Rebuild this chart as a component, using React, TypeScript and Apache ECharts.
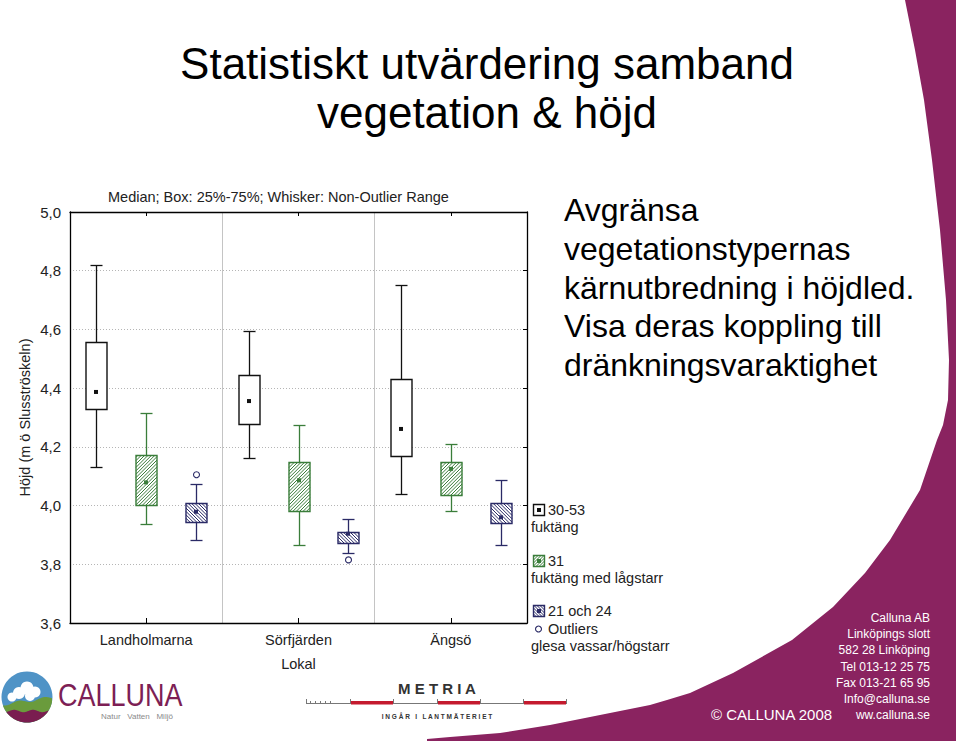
import React, { useEffect, useRef } from "react";
import * as echarts from "echarts";

// ---------- data ----------
const categories = ["Landholmarna", "Sörfjärden", "Ängsö"];
const yMin = 3.6;
const yMax = 5.0;
const yStep = 0.2;
// [low whisker, Q1 (25%), median, Q3 (75%), high whisker]
const fuktangStats = [
  [4.13, 4.329, 4.387, 4.557, 4.82],
  [4.161, 4.277, 4.356, 4.446, 4.596],
  [4.038, 4.168, 4.261, 4.431, 4.752],
];
const lagstarrStats = [
  [3.938, 4.002, 4.079, 4.172, 4.315],
  [3.864, 3.983, 4.086, 4.147, 4.276],
  [3.983, 4.035, 4.125, 4.149, 4.211],
];
const hogstarrStats = [
  [3.884, 3.944, 3.979, 4.008, 4.074],
  [3.839, 3.873, 3.904, 3.909, 3.955],
  [3.867, 3.94, 3.96, 4.008, 4.087],
];
// [category index, value]
const hogstarrOutliers = [
  [0, 4.105],
  [1, 3.815],
];

const chartSubtitle = "Median; Box: 25%-75%; Whisker: Non-Outlier Range";
const yAxisName = "Höjd (m ö Slusströskeln)";
const xAxisName = "Lokal";
const titleLines = ["Statistiskt utvärdering samband", "vegetation & höjd"];
const bodyLines = [
  "Avgränsa",
  "vegetationstypernas",
  "kärnutbredning i höjdled.",
  "Visa deras koppling till",
  "dränkningsvaraktighet",
];
const legendCodes = ["30-53", "31", "21 och 24"];
const legendNames = ["fuktäng", "fuktäng med lågstarr", "glesa vassar/högstarr"];
const outlierLabel = "Outliers";
const contactLines = [
  "Calluna AB",
  "Linköpings slott",
  "582 28 Linköping",
  "Tel 013-12 25 75",
  "Fax 013-21 65 95",
  "Info@calluna.se",
  "ww.calluna.se",
];
const copyright = "© CALLUNA 2008";

// ---------- styling ----------
const FONT = "'Liberation Sans', Arial, Helvetica, sans-serif";
const BLACK = "#111111";
const GREEN = "#3a7d3a";
const NAVY = "#2a2a66";
const PURPLE = "#8a2360";

function hatchLines(x0: number, y0: number, x1: number, y1: number, dir: number, step: number, color: string) {
  const out: any[] = [];
  if (dir === 1) {
    for (let c = x0 + y0 + step / 2; c < x1 + y1; c += step) {
      const xs = Math.max(x0, c - y1);
      const xe = Math.min(x1, c - y0);
      if (xe > xs) out.push({ type: "line", shape: { x1: xs, y1: c - xs, x2: xe, y2: c - xe }, style: { stroke: color, lineWidth: 1 } });
    }
  } else if (dir === -1) {
    for (let c = y0 - x1 + step / 2; c < y1 - x0; c += step) {
      const xs = Math.max(x0, y0 - c);
      const xe = Math.min(x1, y1 - c);
      if (xe > xs) out.push({ type: "line", shape: { x1: xs, y1: xs + c, x2: xe, y2: xe + c }, style: { stroke: color, lineWidth: 1 } });
    }
  }
  return out;
}

function makeBoxRender(offsetFrac: number, color: string, dir: number) {
  return (_params: any, api: any) => {
    const cat = api.value(0);
    const lo = api.value(1);
    const q1 = api.value(2);
    const med = api.value(3);
    const q3 = api.value(4);
    const hi = api.value(5);
    const band = api.size([1, 0])[0];
    const cx = Math.round(api.coord([cat, med])[0] + band * offsetFrac) + 0.5;
    const boxW = Math.round(band * 0.138);
    const capHalf = Math.round(band * 0.037);
    const yLo = Math.round(api.coord([cat, lo])[1]) + 0.5;
    const yQ1 = Math.round(api.coord([cat, q1])[1]) + 0.5;
    const yMed = api.coord([cat, med])[1];
    const yQ3 = Math.round(api.coord([cat, q3])[1]) + 0.5;
    const yHi = Math.round(api.coord([cat, hi])[1]) + 0.5;
    const x0 = cx - boxW / 2;
    const x1 = cx + boxW / 2;
    const ls = { stroke: color, lineWidth: 1.3 };
    const children: any[] = [
      { type: "line", shape: { x1: cx, y1: yHi, x2: cx, y2: yQ3 }, style: ls },
      { type: "line", shape: { x1: cx, y1: yQ1, x2: cx, y2: yLo }, style: ls },
      { type: "line", shape: { x1: cx - capHalf, y1: yHi, x2: cx + capHalf, y2: yHi }, style: ls },
      { type: "line", shape: { x1: cx - capHalf, y1: yLo, x2: cx + capHalf, y2: yLo }, style: ls },
      { type: "rect", shape: { x: x0, y: yQ3, width: boxW, height: yQ1 - yQ3 }, style: { fill: "#ffffff" } },
      ...hatchLines(x0, yQ3, x1, yQ1, dir, 3.4, color),
      { type: "rect", shape: { x: x0, y: yQ3, width: boxW, height: yQ1 - yQ3 }, style: { fill: "none", stroke: color, lineWidth: 1.4 } },
      { type: "rect", shape: { x: cx - 2.5, y: yMed - 2, width: 4, height: 4 }, style: { fill: color } },
    ];
    return { type: "group", children };
  };
}

function outlierRender(offsetFrac: number, color: string) {
  return (_params: any, api: any) => {
    const cat = api.value(0);
    const v = api.value(1);
    const band = api.size([1, 0])[0];
    const p = api.coord([cat, v]);
    return {
      type: "circle",
      shape: { cx: Math.round(p[0] + band * offsetFrac) + 0.5, cy: p[1], r: 3 },
      style: { fill: "#ffffff", stroke: color, lineWidth: 1.1 },
    };
  };
}

function circleRegion(cx: number, cy: number, r: number, topFn: (x: number) => number) {
  const top: number[][] = [];
  const bottom: number[][] = [];
  for (let x = cx - r; x <= cx + r + 0.01; x += 0.5) {
    const dx = x - cx;
    const h = Math.sqrt(Math.max(0, r * r - dx * dx));
    const yt = Math.max(topFn(x), cy - h);
    const yb = cy + h;
    if (yt < yb) {
      top.push([x, yt]);
      bottom.push([x, yb]);
    }
  }
  return top.concat(bottom.reverse());
}

function legendIcon(x: number, y: number, s: number, color: string, dir: number) {
  return [
    { type: "rect", shape: { x, y, width: s, height: s }, style: { fill: "#ffffff" } },
    ...hatchLines(x, y, x + s, y + s, dir, 3, color),
    { type: "rect", shape: { x, y, width: s, height: s }, style: { fill: "none", stroke: color, lineWidth: 1.4 } },
    { type: "rect", shape: { x: x + s / 2 - 2, y: y + s / 2 - 2, width: 4, height: 4 }, style: { fill: color } },
  ];
}

function buildGraphic() {
  const g: any[] = [];
  // purple decorative shape
  const edge = [
    [905, 0], [915, 50], [924, 100], [932, 160], [940, 230], [946, 300], [949, 360], [948, 400],
    [943, 425], [937, 440], [920, 490], [890, 540], [865, 573], [833, 607], [792, 640], [733, 673],
    [690, 693], [667, 700], [650, 705], [600, 715], [550, 725], [500, 733], [450, 737], [427, 739],
  ];
  g.push({
    type: "polygon",
    z: 0,
    shape: { points: [...edge, [427, 741], [956, 741], [956, 0]] },
    style: { fill: PURPLE },
  });
  // titles
  const titleY = [63, 112];
  titleLines.forEach((t, i) =>
    g.push({ type: "text", x: 487, y: titleY[i], style: { text: t, font: `44px ${FONT}`, fill: "#000", align: "center", verticalAlign: "middle" } })
  );
  bodyLines.forEach((t, i) =>
    g.push({ type: "text", x: 564, y: 210 + i * 38.8, style: { text: t, font: `32px ${FONT}`, fill: "#000", align: "left", verticalAlign: "middle" } })
  );
  // legend
  const legendY = [504, 555, 605];
  const legendColors = [BLACK, GREEN, NAVY];
  const legendDirs = [0, 1, -1];
  legendCodes.forEach((code, i) => {
    g.push({ type: "group", children: legendIcon(533.5, legendY[i] + 0.5, 11, legendColors[i], legendDirs[i]) });
    g.push({ type: "text", x: 548, y: legendY[i] + 6, style: { text: code, font: `14.5px ${FONT}`, fill: "#222", verticalAlign: "middle" } });
  });
  g.push({ type: "circle", shape: { cx: 538.5, cy: 629, r: 3 }, style: { fill: "#fff", stroke: NAVY, lineWidth: 1.1 } });
  g.push({ type: "text", x: 548, y: 629, style: { text: outlierLabel, font: `14.5px ${FONT}`, fill: "#222", verticalAlign: "middle" } });
  const nameY = [527, 578, 646];
  legendNames.forEach((n, i) =>
    g.push({ type: "text", x: 531, y: nameY[i], style: { text: n, font: `14.5px ${FONT}`, fill: "#222", verticalAlign: "middle" } })
  );
  // contact block
  contactLines.forEach((t, i) =>
    g.push({ type: "text", x: 930, y: 618 + i * 16.2, style: { text: t, font: `12px ${FONT}`, fill: "#ffffff", align: "right", verticalAlign: "middle" } })
  );
  g.push({ type: "text", x: 711, y: 714, style: { text: copyright, font: `15px ${FONT}`, fill: "#ffffff", align: "left", verticalAlign: "middle" } });

  // Calluna logo
  const lcx = 27, lcy = 697, lr = 25.5;
  g.push({ type: "circle", shape: { cx: lcx, cy: lcy, r: lr }, style: { fill: "#4f93c6" } });
  [[19, 693, 6], [27, 688, 6.5], [35, 692, 5.5], [12, 697, 4.5], [30, 696, 5]].forEach(([x, y, r]) =>
    g.push({ type: "circle", shape: { cx: x, cy: y, r }, style: { fill: "#ffffff" } })
  );
  g.push({
    type: "polygon",
    shape: { points: circleRegion(lcx, lcy, lr, (x) => 701 - (x - lcx) * 0.14 + 1.5 * Math.sin(x / 4)) },
    style: { fill: "#6a9b3c" },
  });
  g.push({
    type: "polygon",
    shape: { points: circleRegion(lcx, lcy, lr, (x) => 711 + 1.2 * Math.sin(x / 3)) },
    style: { fill: "#7a1d50" },
  });
  g.push({
    type: "text", x: 58, y: 695, scaleX: 0.87,
    style: { text: "CALLUNA", font: `31px ${FONT}`, fill: "#7d1f55", verticalAlign: "middle" },
  });
  g.push({ type: "text", x: 101, y: 716, style: { text: "Natur   Vatten   Miljö", font: `8px ${FONT}`, fill: "#8a8a8a", verticalAlign: "middle" } });

  // Metria logo
  g.push({ type: "text", x: 437, y: 688, style: { text: "M E T R I A", font: `600 15px ${FONT}`, fill: "#333", align: "center", verticalAlign: "middle" } });
  g.push({ type: "line", shape: { x1: 306, y1: 703.5, x2: 566, y2: 703.5 }, style: { stroke: "#777", lineWidth: 1 } });
  [306, 350, 393, 437, 480, 523, 566].forEach((x) =>
    g.push({ type: "line", shape: { x1: x + 0.5, y1: 699, x2: x + 0.5, y2: 704 }, style: { stroke: "#777", lineWidth: 1 } })
  );
  [310, 315, 320, 325, 330].forEach((x) =>
    g.push({ type: "line", shape: { x1: x + 0.5, y1: 701, x2: x + 0.5, y2: 703 }, style: { stroke: "#777", lineWidth: 1 } })
  );
  [[351, 393], [438, 480], [524, 566]].forEach(([a, b]) =>
    g.push({ type: "rect", shape: { x: a, y: 701, width: b - a, height: 3.5 }, style: { fill: "#c41a2e" } })
  );
  g.push({ type: "text", x: 437, y: 716, style: { text: "I N G Å R   I   L A N T M Ä T E R I E T", font: `bold 6.5px ${FONT}`, fill: "#333", align: "center", verticalAlign: "middle" } });
  return g;
}

function toSeriesData(stats: number[][]) {
  return stats.map((s, i) => [i, ...s]);
}

export default function App() {
  const ref = useRef<HTMLDivElement>(null);
  useEffect(() => {
    if (!ref.current) return;
    const chart = echarts.init(ref.current, undefined, { renderer: "svg" });
    const valueAxisBase = {
      type: "value" as const,
      min: yMin,
      max: yMax,
      interval: yStep,
    };
    chart.setOption({
      animation: false,
      backgroundColor: "#ffffff",
      textStyle: { fontFamily: FONT },
      title: {
        text: chartSubtitle,
        left: 103,
        top: 184,
        textStyle: { fontFamily: FONT, fontSize: 14.5, fontWeight: "normal", color: "#222" },
      },
      grid: { left: 70, top: 212, right: 433, bottom: 121, containLabel: false },
      xAxis: [
        {
          type: "category",
          data: categories,
          boundaryGap: true,
          position: "bottom",
          name: xAxisName,
          nameLocation: "middle",
          nameGap: 33,
          nameTextStyle: { fontFamily: FONT, fontSize: 14.5, color: "#222" },
          axisLine: { show: true, lineStyle: { color: "#000", width: 1.3 } },
          axisTick: { show: true, alignWithLabel: true, inside: true, length: 5, lineStyle: { color: "#000" } },
          axisLabel: { fontFamily: FONT, fontSize: 14.5, color: "#222", margin: 9 },
          splitLine: { show: true, lineStyle: { color: "#c4c4c4", width: 1, type: "solid" } },
        },
        {
          type: "category",
          data: categories,
          boundaryGap: true,
          position: "top",
          axisLine: { show: true, lineStyle: { color: "#000", width: 1.3 } },
          axisTick: { show: true, alignWithLabel: true, inside: true, length: 4, lineStyle: { color: "#000" } },
          axisLabel: { show: false },
          splitLine: { show: false },
        },
      ],
      yAxis: [
        {
          ...valueAxisBase,
          position: "left",
          name: yAxisName,
          nameLocation: "middle",
          nameRotate: 90,
          nameGap: 38,
          nameTextStyle: { fontFamily: FONT, fontSize: 14.5, color: "#222" },
          axisLine: { show: true, lineStyle: { color: "#000", width: 1.3 } },
          axisTick: { show: false },
          axisLabel: {
            fontFamily: FONT,
            fontSize: 15,
            color: "#222",
            margin: 9,
            formatter: (v: number) => v.toFixed(1).replace(".", ","),
          },
          splitLine: { show: true, lineStyle: { color: "#b5b5b5", width: 1, type: [1, 2] } },
        },
        {
          ...valueAxisBase,
          position: "right",
          axisLine: { show: true, lineStyle: { color: "#000", width: 1.3 } },
          axisTick: { show: true, inside: true, length: 4, lineStyle: { color: "#000" } },
          axisLabel: { show: false },
          splitLine: { show: false },
        },
      ],
      series: [
        {
          type: "custom",
          name: legendCodes[0],
          xAxisIndex: 0,
          yAxisIndex: 0,
          renderItem: makeBoxRender(-0.328, BLACK, 0),
          encode: { x: 0, y: [1, 2, 3, 4, 5] },
          data: toSeriesData(fuktangStats),
          z: 3,
        },
        {
          type: "custom",
          name: legendCodes[1],
          xAxisIndex: 0,
          yAxisIndex: 0,
          renderItem: makeBoxRender(0, GREEN, 1),
          encode: { x: 0, y: [1, 2, 3, 4, 5] },
          data: toSeriesData(lagstarrStats),
          z: 3,
        },
        {
          type: "custom",
          name: legendCodes[2],
          xAxisIndex: 0,
          yAxisIndex: 0,
          renderItem: makeBoxRender(0.328, NAVY, -1),
          encode: { x: 0, y: [1, 2, 3, 4, 5] },
          data: toSeriesData(hogstarrStats),
          z: 3,
        },
        {
          type: "custom",
          name: outlierLabel,
          xAxisIndex: 0,
          yAxisIndex: 0,
          renderItem: outlierRender(0.328, NAVY),
          encode: { x: 0, y: 1 },
          data: hogstarrOutliers,
          z: 3,
        },
      ],
      graphic: buildGraphic(),
    });
    return () => chart.dispose();
  }, []);
  return (
    <div
      ref={ref}
      style={{ position: "fixed", left: 0, top: 0, width: 960, height: 744, background: "#ffffff" }}
    />
  );
}
